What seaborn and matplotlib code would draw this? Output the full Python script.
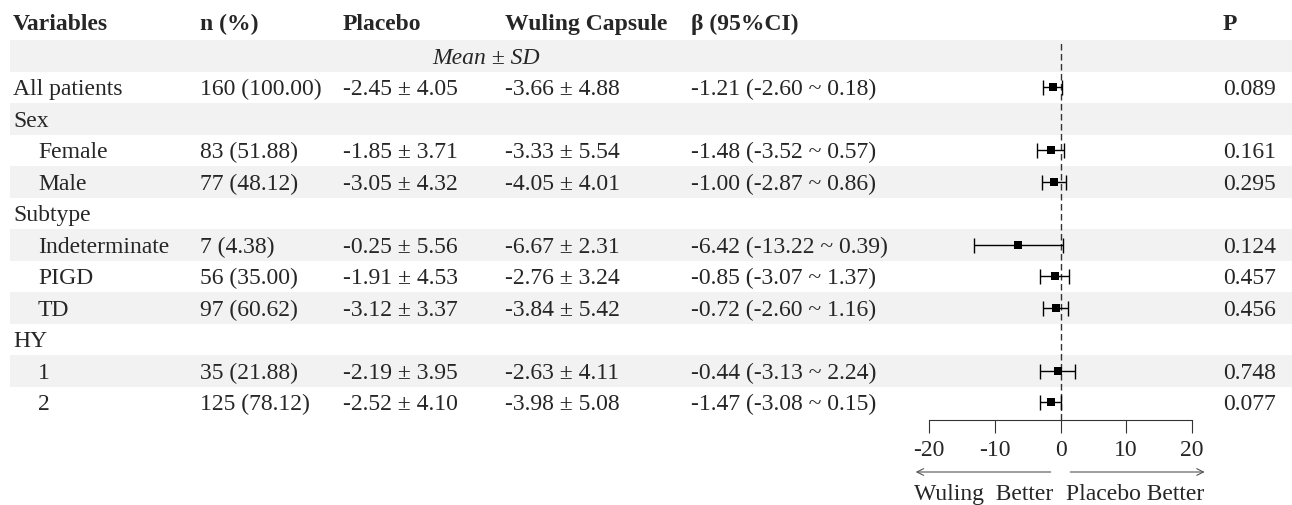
import matplotlib
matplotlib.use("Agg")
import matplotlib.pyplot as plt
import seaborn as sns
import pandas as pd

# ---- table / forest data ----
variables = ["All patients", "Sex", "Female", "Male", "Subtype", "Indeterminate",
             "PIGD", "TD", "HY", "1", "2"]
indented = [False, False, True, True, False, True, True, True, False, True, True]
n_count = [160, None, 83, 77, None, 7, 56, 97, None, 35, 125]
n_pct = [100.00, None, 51.88, 48.12, None, 4.38, 35.00, 60.62, None, 21.88, 78.12]
placebo_mean = [-2.45, None, -1.85, -3.05, None, -0.25, -1.91, -3.12, None, -2.19, -2.52]
placebo_sd = [4.05, None, 3.71, 4.32, None, 5.56, 4.53, 3.37, None, 3.95, 4.10]
wuling_mean = [-3.66, None, -3.33, -4.05, None, -6.67, -2.76, -3.84, None, -2.63, -3.98]
wuling_sd = [4.88, None, 5.54, 4.01, None, 2.31, 3.24, 5.42, None, 4.11, 5.08]
beta = [-1.21, None, -1.48, -1.00, None, -6.42, -0.85, -0.72, None, -0.44, -1.47]
ci_low = [-2.60, None, -3.52, -2.87, None, -13.22, -3.07, -2.60, None, -3.13, -3.08]
ci_high = [0.18, None, 0.57, 0.86, None, 0.39, 1.37, 1.16, None, 2.24, 0.15]
p_value = ["0.089", "", "0.161", "0.295", "", "0.124", "0.457", "0.456", "", "0.748", "0.077"]

headers = ["Variables", "n (%)", "Placebo", "Wuling Capsule", "\u03b2 (95%CI)", "P"]
x_ticks = [-20, -10, 0, 10, 20]

sns.set_theme(style="white")
plt.rcParams["font.family"] = ["Liberation Serif", "DejaVu Serif"]
plt.rcParams["axes.unicode_minus"] = False

W, H = 1292, 505
ROW_TOP, ROW_H = 40, 31.5
FS = 17


def prow(px):
    # pixel y -> row units
    return (px - ROW_TOP) / ROW_H - 0.5


fig = plt.figure(figsize=(W / 100, H / 100), dpi=100)

# table layer over the whole figure
tab = fig.add_axes([0, 0, 1, 1])
tab.set_xlim(0, W)
tab.set_ylim(prow(H), prow(0))
tab.axis("off")

n_rows = len(variables) + 1  # + "Mean ± SD" row
for r in range(0, n_rows, 2):
    tab.axhspan(r - 0.5, r + 0.5, xmin=10 / W, xmax=1.0, color="#f2f2f2", lw=0, zorder=0)

col_x = [13, 200, 343, 505, 691, 1223]
head_y = prow(30)
for x, h in zip(col_x, headers):
    tab.text(x, head_y, h, fontsize=FS, fontweight="bold", va="baseline", ha="left")

tab.text(486, 0 + 0.25, "Mean \u00b1 SD", fontsize=FS, style="italic", va="baseline", ha="center")

for i, name in enumerate(variables):
    r = i + 1
    y = r + 0.25
    tab.text(38 if indented[i] else 13, y, name, fontsize=FS, va="baseline")
    if n_count[i] is None:
        continue
    tab.text(col_x[1], y, f"{n_count[i]} ({n_pct[i]:.2f})", fontsize=FS, va="baseline")
    tab.text(col_x[2], y, f"{placebo_mean[i]:.2f} \u00b1 {placebo_sd[i]:.2f}", fontsize=FS, va="baseline")
    tab.text(col_x[3], y, f"{wuling_mean[i]:.2f} \u00b1 {wuling_sd[i]:.2f}", fontsize=FS, va="baseline")
    tab.text(col_x[4], y, f"{beta[i]:.2f} ({ci_low[i]:.2f} ~ {ci_high[i]:.2f})", fontsize=FS, va="baseline")
    tab.text(col_x[5], y, p_value[i], fontsize=FS, va="baseline")

# forest layer
x0_px, x1_px, axis_px = 929.3, 1191.7, 420
ax = fig.add_axes([x0_px / W, (H - axis_px) / H, (x1_px - x0_px) / W, (axis_px - ROW_TOP) / H])
ax.patch.set_visible(False)
ax.set_xlim(-20, 20)
ax.set_ylim(prow(axis_px), -0.5)

df = pd.DataFrame({"row": [i + 1 for i in range(len(variables))],
                   "beta": beta, "lo": ci_low, "hi": ci_high}).dropna()

ax.axvline(0, color="#333333", lw=1.0, ls=(0, (4.7, 2.5)), zorder=1)
ax.errorbar(df["beta"], df["row"], xerr=[df["beta"] - df["lo"], df["hi"] - df["beta"]],
            fmt="none", ecolor="black", elinewidth=1.0, capsize=5.4, capthick=1.0, zorder=2)
sns.scatterplot(data=df, x="beta", y="row", marker="s", s=36, color="black",
                linewidth=0, ax=ax, zorder=3)

for side in ["left", "top", "right"]:
    ax.spines[side].set_visible(False)
ax.spines["bottom"].set_color("#333333")
ax.spines["bottom"].set_linewidth(0.8)
ax.set_xticks(x_ticks)
ax.set_xticklabels([str(t) for t in x_ticks])
ax.tick_params(axis="x", direction="out", length=9.6, width=0.8, color="#333333",
               labelsize=FS, pad=4.5, bottom=True)
ax.set_yticks([])
ax.set_xlabel("")
ax.set_ylabel("")


def frac(px):
    return (H - px - (H - axis_px)) / (axis_px - ROW_TOP)


tr = ax.get_xaxis_transform()
arrow_y = frac(472)
ax.annotate("", xy=(-22.5, arrow_y), xytext=(-1.07, arrow_y), xycoords=tr, textcoords=tr,
            arrowprops=dict(arrowstyle="->", lw=0.8, color="#555555"), annotation_clip=False)
ax.annotate("", xy=(22.4, arrow_y), xytext=(1.07, arrow_y), xycoords=tr, textcoords=tr,
            arrowprops=dict(arrowstyle="->", lw=0.8, color="#555555"), annotation_clip=False)
ax.text(-11.7, frac(500), "Wuling  Better", transform=tr, ha="center", va="baseline", fontsize=FS)
ax.text(11.4, frac(500), "Placebo Better", transform=tr, ha="center", va="baseline", fontsize=FS)

fig.savefig("out.png", dpi=100)
